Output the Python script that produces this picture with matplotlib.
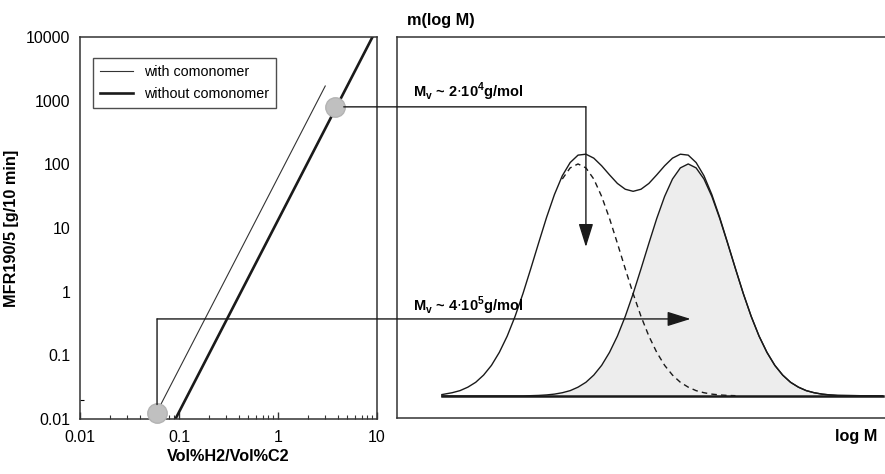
import matplotlib
matplotlib.use('Agg')
import numpy as np
import matplotlib.pyplot as plt
from matplotlib.patches import ConnectionPatch
from matplotlib.transforms import blended_transform_factory

plt.rcParams['font.family'] = ['Liberation Sans', 'DejaVu Sans']

# left panel: MFR vs H2/C2 ratio
ratio_with = [0.055, 3.0]
mfr_with = [0.01, 1700]
ratio_without = [0.092, 9.0]
mfr_without = [0.01, 10000]
dot_ratio = [0.06, 3.8]
dot_mfr = [0.0125, 800]
x_ticks = [0.01, 0.1, 1, 10]
x_ticklabels = ['0.01', '0.1', '1', '10']
y_ticks = [0.01, 0.1, 1, 10, 100, 1000, 10000]
y_ticklabels = ['0.01', '0.1', '1', '10', '100', '1000', '10000']

# right panel: molar mass distribution m(log M)
logm = [2.47, 2.6, 2.7, 2.8, 2.9, 3.0, 3.1, 3.2, 3.3, 3.4, 3.5, 3.6, 3.7,
        3.8, 3.9, 4.0, 4.1, 4.2, 4.3, 4.4, 4.5, 4.6, 4.7, 4.8, 4.9, 5.0,
        5.1, 5.2, 5.3, 5.4, 5.5, 5.6, 5.7, 5.8, 5.9, 6.0, 6.1, 6.2, 6.3,
        6.4, 6.5, 6.6, 6.7, 6.8, 6.9, 7.0, 7.1, 7.2, 7.3, 7.4, 7.5, 8.07]
low_mw = [0.006, 0.014, 0.023, 0.038, 0.059, 0.090, 0.132, 0.188, 0.258,
          0.343, 0.441, 0.548, 0.658, 0.765, 0.860, 0.935, 0.983, 1.0,
          0.983, 0.935, 0.860, 0.765, 0.658, 0.548, 0.441, 0.343, 0.258,
          0.188, 0.132, 0.090, 0.059, 0.038, 0.023, 0.014, 0.008, 0.0045,
          0.0024, 0.0013, 0, 0, 0, 0, 0, 0, 0, 0, 0, 0, 0, 0, 0, 0]
high_mw = [0, 0, 0, 0, 0, 0, 0, 0, 0, 0, 0, 0.0013, 0.0024, 0.0045, 0.008,
           0.014, 0.023, 0.038, 0.059, 0.090, 0.132, 0.188, 0.258, 0.343,
           0.441, 0.548, 0.658, 0.765, 0.860, 0.935, 0.983, 1.0, 0.983,
           0.935, 0.860, 0.765, 0.658, 0.548, 0.441, 0.343, 0.258, 0.188,
           0.132, 0.090, 0.059, 0.038, 0.023, 0.014, 0.008, 0.0045, 0.0024, 0]
mv_logm = [4.3, 5.63]
mv_labels = ['M$_\\mathregular{v}$ ~ 2$\\cdot$10$^\\mathregular{4}$g/mol',
             'M$_\\mathregular{v}$ ~ 4$\\cdot$10$^\\mathregular{5}$g/mol']

ink = '#1a1a1a'
fig = plt.figure(figsize=(8.85, 4.74), dpi=100)

# ---- left panel
ax1 = fig.add_axes([0.0904, 0.1160, 0.3356, 0.8059])
ax1.set_xscale('log')
ax1.set_yscale('log')
ax1.set_xlim(0.01, 10)
ax1.set_ylim(0.01, 10000)
ax1.plot(ratio_with, mfr_with, color='#333333', lw=0.8, label='with comonomer')
ax1.plot(ratio_without, mfr_without, color=ink, lw=1.9, label='without comonomer')
ax1.plot(dot_ratio, dot_mfr, 'o', ms=14, color='#c0c0c0', mec='#b3b3b3',
         clip_on=False, zorder=5)

ax1.set_xticks(x_ticks)
ax1.set_xticklabels(x_ticklabels)
ax1.set_yticks(y_ticks)
ax1.set_yticklabels(y_ticklabels)
ax1.yaxis.set_minor_locator(matplotlib.ticker.FixedLocator([0.02]))
ax1.tick_params(axis='x', which='major', direction='in', length=5, width=1,
                pad=8, labelsize=11.4, color='#333333')
ax1.tick_params(axis='x', which='minor', direction='in', length=3, width=0.8,
                color='#333333')
ax1.tick_params(axis='y', which='major', length=0, pad=7, labelsize=11.4)
ax1.tick_params(axis='y', which='minor', direction='in', length=3, width=0.8,
                labelleft=False)
for s in ax1.spines.values():
    s.set_color('#333333')
    s.set_linewidth(1.1)
ax1.set_xlabel('Vol%H2/Vol%C2', fontsize=11.7, fontweight='bold', labelpad=3)
ax1.set_ylabel('MFR190/5 [g/10 min]', fontsize=11.7, fontweight='bold',
               labelpad=5)
leg = ax1.legend(loc='upper left', bbox_to_anchor=(0.044, 0.945),
                 borderaxespad=0, fancybox=False, fontsize=10.3,
                 handlelength=2.3, handletextpad=0.75, labelspacing=0.55,
                 borderpad=0.5)
leg.get_frame().set_edgecolor('#222222')
leg.get_frame().set_linewidth(1.0)

# ---- right panel
ax2 = fig.add_axes([0.4486, 0.1181, 0.5514, 0.8038])
ax2.set_xlim(1.9, 8.1)
ax2.set_ylim(-0.095, 1.547)
ax2.set_xticks([])
ax2.set_yticks([])
ax2.spines['right'].set_visible(False)
for s in ax2.spines.values():
    s.set_color('#333333')
    s.set_linewidth(1.1)

low = np.array(low_mw)
high = np.array(high_mw)
x = np.array(logm)
ax2.fill_between(x, 0, high, color='#ededed', lw=0)
ax2.plot(x, high, color=ink, lw=1.0)
ax2.plot(x, low + high, color=ink, lw=1.0)
m = (x >= 4.0) & (x <= 6.2)
ax2.plot(x[m], low[m], color=ink, lw=1.0, ls=(0, (4, 3)))
ax2.plot([x[0], x[-1]], [0, 0], color=ink, lw=1.8)

fig.text(407 / 885, 1 - 20 / 474, 'm(log M)', ha='left', va='center',
         fontsize=11.7, fontweight='bold')
fig.text(856 / 885, 1 - 437 / 474, 'log M', ha='center', va='center',
         fontsize=11.7, fontweight='bold')

ax2.text(2.1, 1.287, mv_labels[0], fontsize=10.5, fontweight='bold',
         va='baseline')
ax2.text(2.1, 0.365, mv_labels[1], fontsize=10.5, fontweight='bold',
         va='baseline')

# ---- connecting arrows between the two panels
arrow = dict(arrowstyle='-|>,head_length=0.8,head_width=0.25',
             mutation_scale=18, color=ink, lw=1.0, shrinkA=0, shrinkB=0)
blend_up = blended_transform_factory(ax2.transData, ax1.transData)
blend_lo = blended_transform_factory(ax1.transData, ax2.transData)

c1 = ConnectionPatch(xyA=(dot_ratio[1], dot_mfr[1]), coordsA=ax1.transData,
                     xyB=(mv_logm[0], dot_mfr[1]), coordsB=blend_up,
                     color=ink, lw=1.0, shrinkA=6, shrinkB=0)
fig.add_artist(c1)
ax2.annotate('', xy=(mv_logm[0], 0.642), xycoords='data',
             xytext=(mv_logm[0], dot_mfr[1]), textcoords=blend_up,
             arrowprops=arrow, annotation_clip=False)

c2 = ConnectionPatch(xyA=(dot_ratio[0], dot_mfr[0]), coordsA=ax1.transData,
                     xyB=(dot_ratio[0], 0.332), coordsB=blend_lo,
                     color=ink, lw=1.0, shrinkA=6, shrinkB=0)
fig.add_artist(c2)
ax2.annotate('', xy=(mv_logm[1], 0.332), xycoords='data',
             xytext=(dot_ratio[0], 0.332), textcoords=blend_lo,
             arrowprops=arrow, annotation_clip=False)

fig.savefig('out.png', dpi=100)
